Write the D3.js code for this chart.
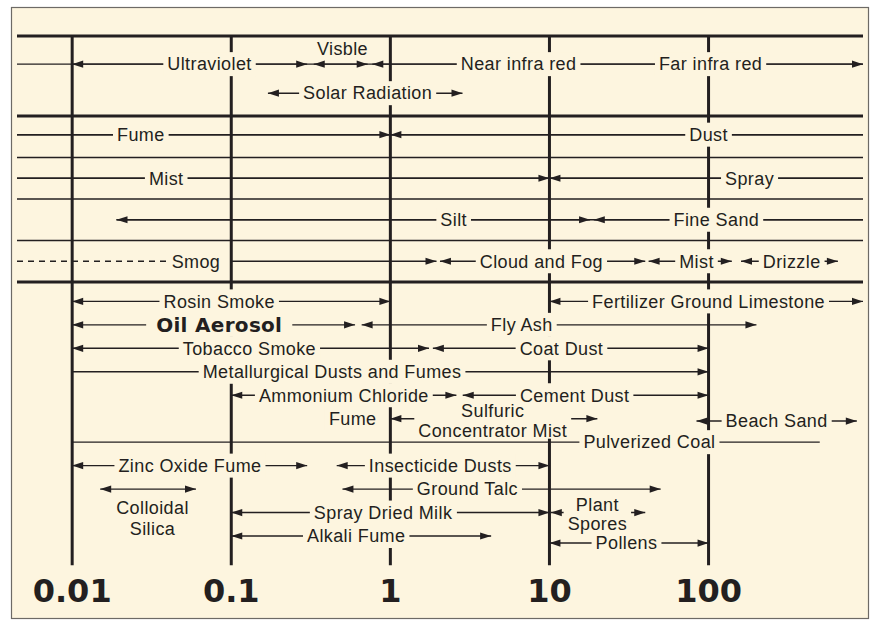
<!DOCTYPE html>
<html>
<head>
<meta charset="utf-8">
<script src="https://cdn.jsdelivr.net/npm/d3@7"></script>
<style>
  body { margin: 0; background: #fff; }
  svg text { font-family: "Liberation Sans", Arial, sans-serif; fill: #231f20; }
</style>
</head>
<body>
<div id="chart"></div>
<script>
// particle size in micrometres, log axis
const xMin = 0.0045, xMax = 935;
const ticks = [0.01, 0.1, 1, 10, 100];
const tickLabels = ["0.01", "0.1", "1", "10", "100"];

// upper panel: rules and plain tracks (lane numbers)
const heavyRules = [-3.85, 0, 8];
const lightRules = [2, 4, 6];
const upperTracks = [
  { lane: -2.5, from: xMin, to: xMax },
  { lane: 0.9, from: xMin, to: xMax },
  { lane: 3, from: xMin, to: xMax },
  { lane: 5, from: 0.019, to: xMax },
  { lane: 7, from: xMin, to: 0.06, dashed: true }
];

const upperRanges = [
  { lane: -2.5, label: "Ultraviolet", from: 0.01, to: 0.3, ends: "both", at: 0.073 },
  { lane: -2.5, label: "Visble", from: 0.33, to: 0.72, ends: "both", at: 0.5, labelLane: -3.25 },
  { lane: -2.5, label: "Near infra red", from: 0.77, to: 10, ends: "start", at: 6.4 },
  { lane: -2.5, label: "Far infra red", from: 10, to: xMax, ends: "end", at: 103 },
  { lane: -1.1, label: "Solar Radiation", from: 0.17, to: 2.84, ends: "both", at: 0.72 },
  { lane: 0.9, label: "Fume", from: xMin, to: 1, ends: "end", at: 0.027 },
  { lane: 0.9, label: "Dust", from: 1, to: xMax, ends: "start", at: 100 },
  { lane: 3, label: "Mist", from: xMin, to: 10, ends: "end", at: 0.039 },
  { lane: 3, label: "Spray", from: 10, to: xMax, ends: "start", at: 181 },
  { lane: 5, label: "Silt", from: 0.019, to: 18, ends: "both", at: 2.5 },
  { lane: 5, label: "Fine Sand", from: 19, to: xMax, ends: "start", at: 112 },
  { lane: 7, label: "Smog", from: 0.1, to: 1.95, ends: "end", at: 0.06 },
  { lane: 7, label: "Cloud and Fog", from: 2.05, to: 40, ends: "both", at: 8.9 },
  { lane: 7, label: "Mist", from: 42, to: 140, ends: "both", at: 84 },
  { lane: 7, label: "Drizzle", from: 160, to: 650, ends: "both", at: 333 }
];

// lower panel: particle types
const lowerRanges = [
  { lane: 0, label: "Rosin Smoke", from: 0.01, to: 1, ends: "both", at: 0.084 },
  { lane: 0, label: "Fertilizer Ground Limestone", from: 10, to: xMax, ends: "both", at: 100 },
  { lane: 1, label: "Oil Aerosol", from: 0.01, to: 0.6, ends: "both", at: 0.084, bold: true },
  { lane: 1, label: "Fly Ash", from: 0.66, to: 200, ends: "both", at: 6.7 },
  { lane: 2, label: "Tobacco Smoke", from: 0.01, to: 1.75, ends: "both", at: 0.13 },
  { lane: 2, label: "Coat Dust", from: 1.85, to: 100, ends: "both", at: 11.9 },
  { lane: 3, label: "Metallurgical Dusts and Fumes", from: 0.01, to: 100, ends: "end", at: 0.43 },
  { lane: 4, label: "Ammonium Chloride", from: 0.1, to: 2.6, ends: "both", at: 0.51 },
  { lane: 4, label: "Cement Dust", from: 2.85, to: 100, ends: "both", at: 14.4 },
  { lane: 5, label: "Sulfuric\nConcentrator Mist", from: 1, to: 20, ends: "both", at: 4.4 },
  { lane: 5.1, label: "Beach Sand", from: 84, to: 855, ends: "both", at: 268 },
  { lane: 6, label: "Pulverized Coal", from: 0.01, to: 500, ends: "none", at: 42.5 },
  { lane: 7, label: "Zinc Oxide Fume", from: 0.01, to: 0.3, ends: "both", at: 0.055 },
  { lane: 7, label: "Insecticide Dusts", from: 0.46, to: 10, ends: "both", at: 2.06 },
  { lane: 8, label: "Colloidal\nSilica", from: 0.015, to: 0.06, ends: "both", at: 0.032, below: true },
  { lane: 8, label: "Ground Talc", from: 0.5, to: 50, ends: "both", at: 3.05 },
  { lane: 9, label: "Spray Dried Milk", from: 0.1, to: 10, ends: "both", at: 0.9 },
  { lane: 9, label: "Plant\nSpores", from: 10.2, to: 40, ends: "both", at: 20 },
  { lane: 10, label: "Alkali Fume", from: 0.1, to: 4.3, ends: "both", at: 0.61 },
  { lane: 10.3, label: "Pollens", from: 10, to: 100, ends: "both", at: 30.5 }
];
const lowerNotes = [
  { lane: 5, label: "Fume", at: 0.58 }
];

const W = 870, H = 620;
const bg = "#fdf5df", ink = "#231f20";

const x = d3.scaleLog().domain([xMin, xMax]).range([17, 863]);
const yUp = d3.scaleLinear().domain([0, 8]).range([116, 282]);
const yLow = d3.scaleLinear().domain([0, 10]).range([301.4, 536]);

const svg = d3.select("#chart").append("svg")
  .attr("width", W)
  .attr("height", H);

svg.append("rect")
  .attr("x", 11.5).attr("y", 7.5)
  .attr("width", 857).attr("height", 611)
  .attr("fill", bg)
  .attr("stroke", "#6d6a66")
  .attr("stroke-width", 1.2);

const gLines = svg.append("g");
const gKnock = svg.append("g");
const gRules = svg.append("g");
const gArrows = svg.append("g");
const gText = svg.append("g");

// vertical decade lines
gLines.selectAll(".grid")
  .data(ticks)
  .enter().append("line")
  .attr("class", "grid")
  .attr("x1", d => x(d)).attr("x2", d => x(d))
  .attr("y1", yUp(-3.85)).attr("y2", yLow(11.25))
  .attr("stroke", ink)
  .attr("stroke-width", 3);

// horizontal rules
gRules.selectAll(".heavy")
  .data(heavyRules)
  .enter().append("line")
  .attr("x1", x(xMin)).attr("x2", x(xMax))
  .attr("y1", d => yUp(d)).attr("y2", d => yUp(d))
  .attr("stroke", ink)
  .attr("stroke-width", 3);

gRules.selectAll(".light")
  .data(lightRules)
  .enter().append("line")
  .attr("x1", x(xMin)).attr("x2", x(xMax))
  .attr("y1", d => yUp(d)).attr("y2", d => yUp(d))
  .attr("stroke", ink)
  .attr("stroke-width", 1.6);

upperTracks.forEach(t => {
  gLines.append("line")
    .attr("x1", x(t.from)).attr("x2", x(t.to))
    .attr("y1", yUp(t.lane)).attr("y2", yUp(t.lane))
    .attr("stroke", ink)
    .attr("stroke-width", 1.4)
    .attr("stroke-dasharray", t.dashed ? "6,5" : null);
});

function arrow(tip, y, dir) {
  gArrows.append("path")
    .attr("d", `M${tip},${y}L${tip - dir * 11},${y - 3.6}L${tip - dir * 11},${y + 3.6}Z`)
    .attr("fill", ink);
}

// text with a background block that breaks the lines behind it
function label(str, cx, cy, bold, below) {
  const parts = str.split("\n");
  let offs = [0];
  if (parts.length > 1) offs = below ? [19, 40] : [-8, 11.5];
  let x0 = Infinity, x1 = -Infinity;
  parts.forEach((p, i) => {
    const t = gText.append("text")
      .attr("x", cx).attr("y", cy + offs[i])
      .attr("dy", "0.35em")
      .attr("text-anchor", "middle")
      .style("font-size", bold ? "20px" : "18px")
      .style("font-family", bold ? "'DejaVu Sans', sans-serif" : null)
      .style("font-weight", bold ? "bold" : null)
      .style("letter-spacing", bold ? "0.3px" : "0.4px")
      .text(p);
    const bb = t.node().getBBox();
    x0 = Math.min(x0, bb.x);
    x1 = Math.max(x1, bb.x + bb.width);
  });
  const padX = bold ? 10 : 4;
  const half = parts.length > 1 ? 8.5 : 12;
  const top = cy + offs[0] - half, bottom = cy + offs[offs.length - 1] + half;
  gKnock.append("rect")
    .attr("x", x0 - padX).attr("width", x1 - x0 + padX * 2)
    .attr("y", top).attr("height", bottom - top)
    .attr("fill", bg);
}

function drawRange(d, yScale) {
  const y = yScale(d.lane);
  gLines.append("line")
    .attr("x1", x(d.from)).attr("x2", x(d.to))
    .attr("y1", y).attr("y2", y)
    .attr("stroke", ink)
    .attr("stroke-width", 1.4);
  if (d.ends === "both" || d.ends === "start") arrow(x(d.from), y, -1);
  if (d.ends === "both" || d.ends === "end") arrow(x(d.to), y, 1);
  const ly = d.labelLane !== undefined ? yScale(d.labelLane) : y;
  label(d.label, x(d.at), ly, d.bold, d.below);
}

upperRanges.forEach(d => drawRange(d, yUp));
lowerRanges.forEach(d => drawRange(d, yLow));
lowerNotes.forEach(d => label(d.label, x(d.at), yLow(d.lane)));

// decade labels
gText.selectAll(".tick")
  .data(ticks)
  .enter().append("text")
  .attr("x", d => x(d))
  .attr("y", yLow(12.8))
  .attr("text-anchor", "middle")
  .style("font-family", "'DejaVu Sans', sans-serif")
  .style("font-weight", "bold")
  .style("font-size", "32px")
  .text((d, i) => tickLabels[i]);
</script>
</body>
</html>
